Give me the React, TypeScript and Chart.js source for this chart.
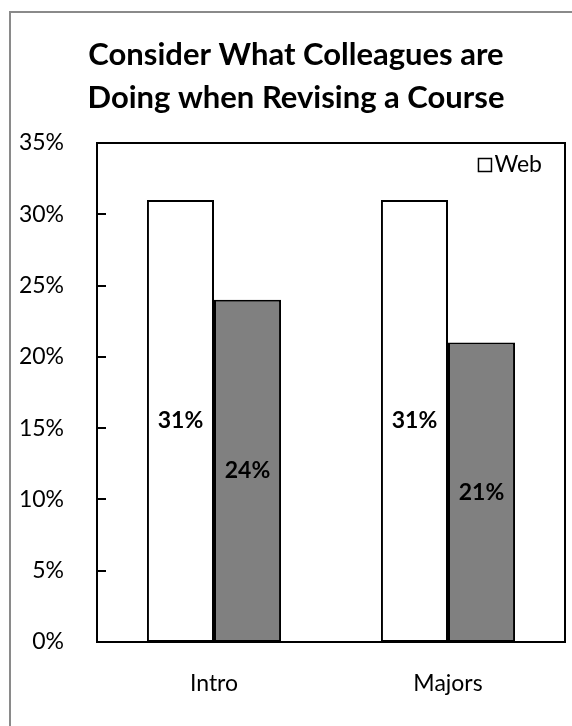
import React, { useEffect, useRef } from 'react';
import { Chart, registerables } from 'chart.js';

Chart.register(...registerables);

const TITLE_LINES = ['Consider What Colleagues are', 'Doing when Revising a Course'];
const CATEGORIES = ['Intro', 'Majors'];
const SERIES_NAMES = ['Web', 'Other'];
const WEB_VALUES = [31, 31];
const OTHER_VALUES = [24, 21];
const Y_MIN = 0;
const Y_MAX = 35;
const Y_STEP = 5;

const FONT = 'Lato, "Open Sans", sans-serif';

const titlePlugin = {
  id: 'chartTitle',
  afterDraw(chart: any) {
    const { ctx, chartArea } = chart;
    ctx.save();
    ctx.fillStyle = '#000';
    ctx.font = `bold 31px ${FONT}`;
    ctx.textAlign = 'center';
    ctx.textBaseline = 'middle';
    const cx = chart.width / 2 + 4.5;
    TITLE_LINES.forEach((line, i) => {
      ctx.fillText(line, cx, chartArea.top - 88 + i * 43);
    });
    ctx.restore();
  },
};

const framePlugin = {
  id: 'frame',
  afterDraw(chart: any) {
    const { ctx, chartArea } = chart;
    const y = chart.scales.y;
    ctx.save();
    ctx.strokeStyle = '#000';
    ctx.lineWidth = 2;
    ctx.strokeRect(chartArea.left, chartArea.top, chartArea.right - chartArea.left, chartArea.bottom - chartArea.top);
    ctx.beginPath();
    y.ticks.forEach((t: any) => {
      const py = Math.round(y.getPixelForValue(t.value));
      ctx.moveTo(chartArea.left, py);
      ctx.lineTo(chartArea.left + 9, py);
    });
    ctx.stroke();
    ctx.restore();
  },
};

const dataLabelPlugin = {
  id: 'dataLabels',
  afterDatasetsDraw(chart: any) {
    const { ctx } = chart;
    ctx.save();
    ctx.fillStyle = '#000';
    ctx.font = `bold 23px ${FONT}`;
    ctx.textAlign = 'center';
    ctx.textBaseline = 'middle';
    chart.data.datasets.forEach((ds: any, i: number) => {
      const meta = chart.getDatasetMeta(i);
      meta.data.forEach((el: any, j: number) => {
        ctx.fillText(`${ds.data[j]}%`, el.x, (el.y + el.base) / 2);
      });
    });
    ctx.restore();
  },
};

const legendPlugin = {
  id: 'insideLegend',
  afterDraw(chart: any) {
    const { ctx, chartArea } = chart;
    const ds = chart.data.datasets[0];
    ctx.save();
    ctx.font = `23px ${FONT}`;
    ctx.textAlign = 'right';
    ctx.textBaseline = 'middle';
    ctx.fillStyle = '#000';
    const cy = chartArea.top + 22;
    const textRight = chartArea.right - 23;
    ctx.fillText(ds.label, textRight, cy);
    const w = ctx.measureText(ds.label).width;
    const boxRight = textRight - w - 3;
    ctx.fillStyle = ds.backgroundColor;
    ctx.fillRect(boxRight - 13, cy - 6.5, 13, 13);
    ctx.strokeStyle = '#000';
    ctx.lineWidth = 1.5;
    ctx.strokeRect(boxRight - 13, cy - 6.5, 13, 13);
    ctx.restore();
  },
};

export default function App() {
  const ref = useRef<HTMLCanvasElement>(null);

  useEffect(() => {
    if (!ref.current) return;
    const chart = new Chart(ref.current, {
      type: 'bar',
      data: {
        labels: CATEGORIES,
        datasets: [
          {
            label: SERIES_NAMES[0],
            data: WEB_VALUES,
            backgroundColor: '#ffffff',
            borderColor: '#000000',
            borderWidth: 2,
            borderSkipped: false,
            categoryPercentage: 0.573,
            barPercentage: 1,
          },
          {
            label: SERIES_NAMES[1],
            data: OTHER_VALUES,
            backgroundColor: '#808080',
            borderColor: '#000000',
            borderWidth: 2,
            borderSkipped: false,
            categoryPercentage: 0.573,
            barPercentage: 1,
          },
        ],
      },
      options: {
        responsive: false,
        animation: false,
        layout: { padding: { left: 0, right: 7, top: 130, bottom: 0 } },
        plugins: {
          legend: { display: false },
          tooltip: { enabled: false },
          title: { display: false },
        },
        scales: {
          x: {
            grid: { display: false },
            border: { display: false },
            ticks: { color: '#000', font: { family: FONT, size: 23 }, padding: 20 },
            afterFit: (s: any) => {
              s.height = 84;
            },
          },
          y: {
            min: Y_MIN,
            max: Y_MAX,
            grid: { display: false },
            border: { display: false },
            ticks: {
              stepSize: Y_STEP,
              color: '#000',
              font: { family: FONT, size: 23 },
              padding: 25,
              callback: (v: any) => `${v}%`,
            },
            afterFit: (s: any) => {
              s.width = 86;
            },
          },
        },
      },
      plugins: [framePlugin, dataLabelPlugin, legendPlugin, titlePlugin],
    });
    return () => chart.destroy();
  }, []);

  return (
    <div
      style={{
        position: 'absolute',
        left: 9,
        top: 11,
        width: 563,
        height: 715,
        boxSizing: 'border-box',
        borderLeft: '2px solid #8a8a8a',
        borderTop: '2px solid #8a8a8a',
        background: '#fff',
        overflow: 'hidden',
      }}
    >
      <canvas ref={ref} width={561} height={713} style={{ display: 'block' }} />
    </div>
  );
}
